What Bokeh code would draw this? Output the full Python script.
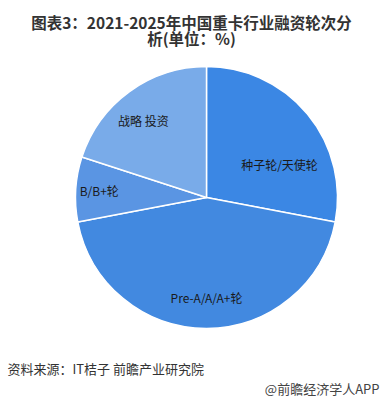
import numpy as np
from bokeh.plotting import figure
from bokeh.models import Range1d, Label, ColumnDataSource
from bokeh.core.properties import value
from bokeh.embed import file_html
from bokeh.resources import INLINE

# ---- data ----
categories = ["种子轮/天使轮", "Pre-A/A/A+轮", "B/B+轮", "战略 投资"]
shares = [28.0, 44.0, 8.0, 20.0]
colors = ["#3b87e4", "#4289e0", "#5a95e3", "#79abe9"]

title_lines = ["图表3：2021-2025年中国重卡行业融资轮次分", "析(单位：%)"]
source_text = "资料来源：IT桔子 前瞻产业研究院"
footer_text = "@前瞻经济学人APP"

# ---- style / layout ----
W, H = 383, 400
CX, CY, R = 206, H - 197, 131
label_r = [0.61, 0.76, 0.82, 0.76]
label_shift_deg = [-15.6, 0.0, 0.0, 3.4]
FONT = "Noto Sans CJK SC"

frac = np.array(shares) / sum(shares)
cum = np.concatenate([[0], np.cumsum(frac)])
start = np.pi / 2 - 2 * np.pi * cum[1:]
end = np.pi / 2 - 2 * np.pi * cum[:-1]
mid = (start + end) / 2 + np.radians(label_shift_deg)
lx = CX + np.array(label_r) * R * np.cos(mid)
ly = CY + np.array(label_r) * R * np.sin(mid)

src = ColumnDataSource(dict(start=start, end=end, color=colors,
                            lx=lx, ly=ly, label=categories))

p = figure(width=W, height=H, output_backend="svg", toolbar_location=None,
           x_range=Range1d(0, W), y_range=Range1d(0, H), min_border=0)
p.axis.visible = False
p.grid.visible = False
p.outline_line_color = None
p.background_fill_color = "white"

p.wedge(x=CX, y=CY, radius=R, start_angle="start", end_angle="end",
        fill_color="color", line_color="white", line_width=1.5, source=src)

p.text(x="lx", y="ly", text="label", source=src, text_font=value(FONT),
       text_font_size="12px", text_color="#1a1a1a", text_align="center",
       text_baseline="middle")

for i, t in enumerate(title_lines):
    p.add_layout(Label(x=191, y=H - 21 - 16.5 * i, x_units="screen", y_units="screen",
                       text=t, text_font=FONT, text_font_size="15.5px",
                       text_font_style="bold", text_color="#333333",
                       text_align="center", text_baseline="middle"))

p.add_layout(Label(x=7, y=H - 368, x_units="screen", y_units="screen",
                   text=source_text, text_font=FONT, text_font_size="13px",
                   text_color="#333333", text_align="left", text_baseline="middle"))
p.add_layout(Label(x=379, y=H - 388, x_units="screen", y_units="screen",
                   text=footer_text, text_font=FONT, text_font_size="13px",
                   text_color="#444444", text_align="right", text_baseline="middle"))

open("out.html", "w").write(file_html(p, INLINE))
